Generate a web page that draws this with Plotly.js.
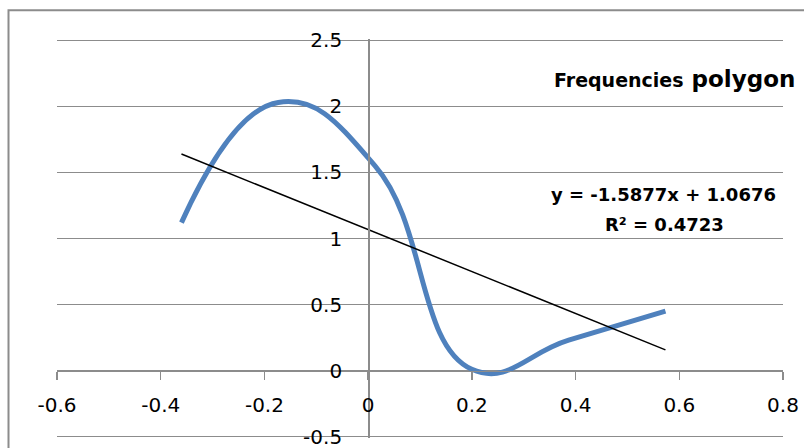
<!DOCTYPE html>
<html>
<head>
<meta charset="utf-8">
<script src="https://cdn.plot.ly/plotly-3.0.1.min.js"></script>
<style>html,body{margin:0;padding:0;background:#fff;}#chart{width:804px;height:448px;}</style>
</head>
<body>
<div id="chart"></div>
<script>
// Class midpoints (x) and frequency polygon values (y)
const classMid = [-0.36, -0.1733, 0.0133, 0.2, 0.3867, 0.5733];
const freqValues = [1.12, 2.03, 1.55, 0.01, 0.23, 0.45];
// Linear trendline from the chart's equation
const trendSlope = -1.5877;
const trendIntercept = 1.0676;
const trendLabel = "y = -1.5877x + 1.0676";
const r2Label = "R² = 0.4723";
const chartTitle = "Frequencies";
const chartTitle2 = "polygon";
const xTickVals = [-0.6, -0.4, -0.2, 0, 0.2, 0.4, 0.6, 0.8];
const xTickText = ["-0.6", "-0.4", "-0.2", "0", "0.2", "0.4", "0.6", "0.8"];
const yTickVals = [-0.5, 0, 0.5, 1, 1.5, 2, 2.5];
const yTickText = ["-0.5", "0", "0.5", "1", "1.5", "2", "2.5"];

const trendX = [classMid[0], classMid[classMid.length - 1]];
const trendY = trendX.map(x => trendSlope * x + trendIntercept);

const font = "DejaVu Sans, Verdana, sans-serif";
const gray = "#8c8c8c";
const yRange = [-0.51, 2.51];
const xRange = [-0.6, 0.8];

const traces = [
  {
    x: classMid, y: freqValues, type: "scatter", mode: "lines",
    line: {color: "#4f81bd", width: 5, shape: "spline", smoothing: 1.3},
    hoverinfo: "skip", showlegend: false
  },
  {
    x: trendX, y: trendY, type: "scatter", mode: "lines",
    line: {color: "#000000", width: 1.5},
    hoverinfo: "skip", showlegend: false
  }
];

const layout = {
  width: 804, height: 448,
  margin: {l: 57, r: 21, t: 39, b: 10, pad: 0},
  paper_bgcolor: "#ffffff", plot_bgcolor: "#ffffff",
  showlegend: false,
  font: {family: font, color: "#000"},
  xaxis: {
    range: xRange, tickmode: "array", tickvals: xTickVals, ticktext: xTickText,
    showgrid: false, zeroline: false, showline: true, linecolor: gray, linewidth: 1.5,
    anchor: "free", position: (0 - yRange[0]) / (yRange[1] - yRange[0]),
    ticks: "outside", ticklen: 8, tickwidth: 1.5, tickcolor: gray,
    tickfont: {family: font, size: 20, color: "#000"}, ticklabelstandoff: 8,
    ticklabeloverflow: "allow", automargin: false, fixedrange: true
  },
  yaxis: {
    range: yRange, tickmode: "array", tickvals: yTickVals, ticktext: yTickText,
    showgrid: true, gridcolor: gray, gridwidth: 1.5, zeroline: false,
    showline: true, linecolor: gray, linewidth: 1.5,
    anchor: "free", position: (0 - xRange[0]) / (xRange[1] - xRange[0]),
    ticks: "outside", ticklen: 8, tickwidth: 1.5, tickcolor: gray,
    tickfont: {family: font, size: 20, color: "#000"}, ticklabelstandoff: 14,
    ticklabeloverflow: "allow", automargin: false, fixedrange: true
  },
  shapes: [
    {type: "rect", xref: "paper", yref: "paper", x0: -0.0668, x1: 1.2, y0: -0.2, y1: 1.072,
     line: {color: gray, width: 2}, fillcolor: "rgba(0,0,0,0)", layer: "below"}
  ],
  annotations: [
    {xref: "paper", yref: "paper", x: (797 - 57) / 726, y: (437 - 80) / 397,
     xanchor: "right", yanchor: "middle", showarrow: false,
     text: "<b><span style='font-size:19px'>" + chartTitle + "</span> " + chartTitle2 + "</b>",
     font: {family: font, size: 23, color: "#000"}},
    {xref: "paper", yref: "paper", x: (663 - 57) / 726, y: (437 - 195) / 397,
     xanchor: "center", yanchor: "middle", showarrow: false,
     text: "<b>" + trendLabel + "</b>", font: {family: font, size: 18, color: "#000"}},
    {xref: "paper", yref: "paper", x: (664 - 57) / 726, y: (437 - 225) / 397,
     xanchor: "center", yanchor: "middle", showarrow: false,
     text: "<b>" + r2Label + "</b>", font: {family: font, size: 18, color: "#000"}}
  ]
};

Plotly.newPlot("chart", traces, layout, {staticPlot: true, displayModeBar: false});
</script>
</body>
</html>
